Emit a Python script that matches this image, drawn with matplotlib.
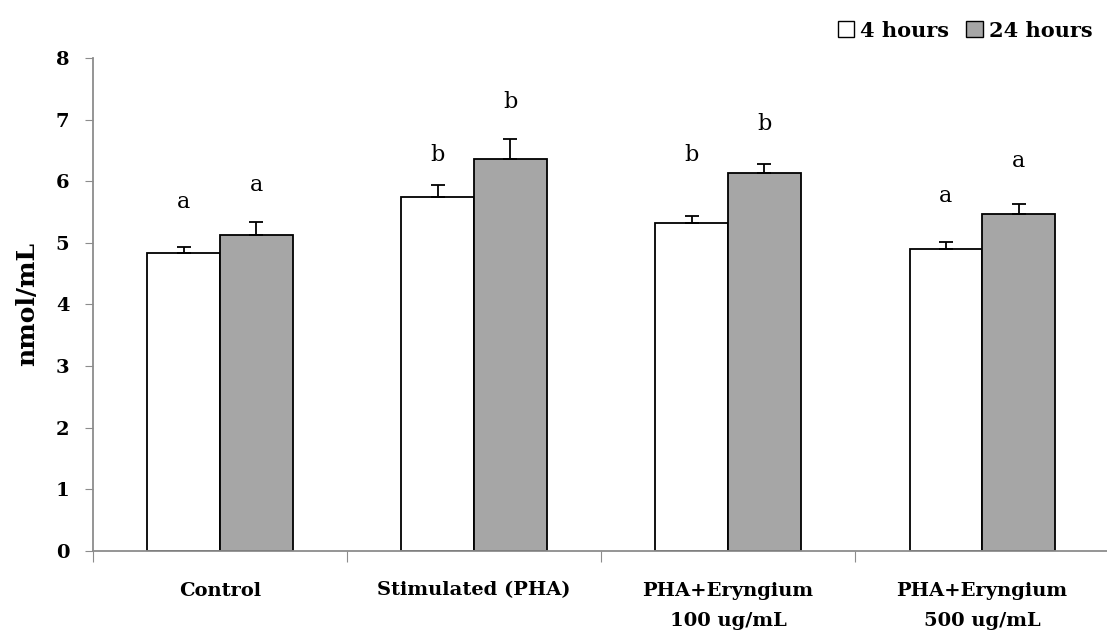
import numpy as np
import matplotlib.pyplot as plt
from matplotlib.patches import Patch

# ====== DATA ======
groups = ['Control', 'Stimulated (PHA)', 'PHA+Eryngium\n100 ug/mL', 'PHA+Eryngium\n500 ug/mL']
mean_4h = [4.83, 5.75, 5.33, 4.90]
err_4h = [0.10, 0.19, 0.11, 0.11]
mean_24h = [5.12, 6.36, 6.14, 5.47]
err_24h = [0.22, 0.32, 0.14, 0.16]
letters_4h = ['a', 'b', 'b', 'a']
letters_24h = ['a', 'b', 'b', 'a']
letter_y_4h = [5.67, 6.43, 6.43, 5.76]
letter_y_24h = [5.94, 7.29, 6.93, 6.33]

# ====== STYLE ======
plt.rcParams['font.family'] = ['DejaVu Serif']
grey = '#a6a6a6'
spine_col = '#8c8c8c'

fig = plt.figure(figsize=(11.07, 6.37), dpi=100)
ax = fig.add_axes([0.084, 0.135, 0.918, 0.774])

x = np.arange(len(groups)) + 0.5
w = 0.286

ax.bar(x - w/2, mean_4h, w, color='white', edgecolor='black', linewidth=1.3, zorder=2)
ax.bar(x + w/2, mean_24h, w, color=grey, edgecolor='black', linewidth=1.3, zorder=2)
ax.errorbar(x - w/2, mean_4h, yerr=[np.zeros(4), err_4h], fmt='none', ecolor='black',
            elinewidth=1.3, capsize=5, capthick=1.3, zorder=3)
ax.errorbar(x + w/2, mean_24h, yerr=[np.zeros(4), err_24h], fmt='none', ecolor='black',
            elinewidth=1.3, capsize=5, capthick=1.3, zorder=3)

# significance letters
for i in range(len(groups)):
    ax.text(x[i] - w/2, letter_y_4h[i], letters_4h[i], ha='center', va='center', fontsize=16)
    ax.text(x[i] + w/2, letter_y_24h[i], letters_24h[i], ha='center', va='center', fontsize=16)

ax.set_xlim(0, 4)
ax.set_ylim(0, 8)
ax.set_yticks(range(9))
ax.set_yticklabels([str(v) for v in range(9)], fontsize=14, fontweight='bold')
ax.set_xticks(range(5))
ax.set_xticklabels([])
ax.set_xticks(x, minor=True)
ax.set_xticklabels(groups, minor=True, fontsize=14, fontweight='bold', linespacing=1.9)
ax.tick_params(axis='x', which='minor', length=0, pad=22)
ax.tick_params(axis='x', which='major', length=8, color=spine_col, direction='out')
ax.tick_params(axis='y', length=6, color=spine_col, direction='out', pad=11)

for s in ['top', 'right']:
    ax.spines[s].set_visible(False)
for s in ['left', 'bottom']:
    ax.spines[s].set_color(spine_col)
    ax.spines[s].set_linewidth(1.3)

ax.set_ylabel('nmol/mL', fontsize=18, fontweight='bold', labelpad=12)

handles = [Patch(facecolor='white', edgecolor='black', linewidth=1.0, label='4 hours'),
           Patch(facecolor=grey, edgecolor='black', linewidth=1.0, label='24 hours')]
fig.legend(handles=handles, loc='upper right', bbox_to_anchor=(1.004, 0.997), ncol=2, frameon=False,
           handlelength=0.8, handleheight=0.8, handletextpad=0.3, columnspacing=0.8,
           prop={'size': 15, 'weight': 'bold'})

plt.savefig('out.png', dpi=100)
